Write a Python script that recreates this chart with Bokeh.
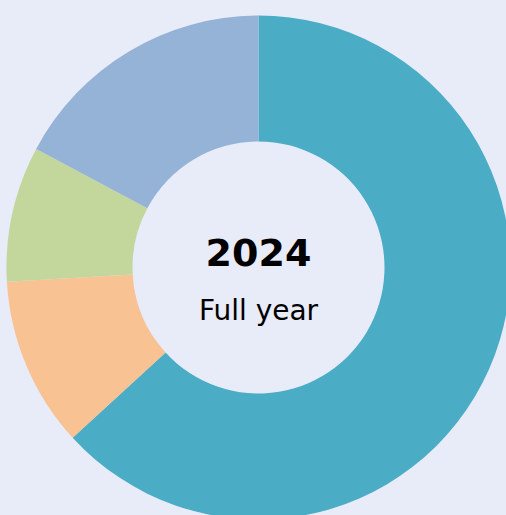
import numpy as np
from bokeh.plotting import figure
from bokeh.models import Range1d, ColumnDataSource
from bokeh.core.properties import value
from bokeh.embed import file_html
from bokeh.resources import INLINE

# Data (clockwise from 12 o'clock)
categories = ["Segment 1", "Segment 2", "Segment 3", "Segment 4"]
shares = [63.2, 10.9, 8.7, 17.2]
colors = ["#4BACC6", "#F9C293", "#C3D69B", "#95B3D7"]
center_title = ["2024"]
center_subtitle = ["Full year"]

BG = "#E8EBF8"
W, H = 506, 515
cx, cy = 258, H - 267
r_out, r_in = 252, 126

vals = np.array(shares, dtype=float)
frac = vals / vals.sum()
cum_end = np.cumsum(frac) * 2 * np.pi
cum_start = cum_end - frac * 2 * np.pi
start = np.pi / 2 - cum_end
end = np.pi / 2 - cum_start

src = ColumnDataSource(dict(cat=categories, start=start, end=end, color=colors,
                            x=[cx] * len(categories), y=[cy] * len(categories)))

p = figure(width=W, height=H, x_range=Range1d(0, W), y_range=Range1d(0, H),
           output_backend="svg", toolbar_location=None, min_border=0)
p.axis.visible = False
p.grid.visible = False
p.outline_line_color = None
p.background_fill_color = BG
p.border_fill_color = BG

p.annular_wedge(x="x", y="y", inner_radius=r_in, outer_radius=r_out,
                start_angle="start", end_angle="end", fill_color="color",
                line_color=None, source=src)

p.text(x=[cx], y=[H - 252], text=center_title, text_align="center",
       text_baseline="alphabetic", text_font=value("DejaVu Sans"),
       text_font_size="38px", text_font_style="bold", text_color="#000000")
p.text(x=[cx], y=[H - 310], text=center_subtitle, text_align="center",
       text_baseline="alphabetic", text_font=value("DejaVu Sans"),
       text_font_size="28px", text_color="#000000")

html = file_html(p, INLINE)
html = html.replace("</head>", "<style>html,body{margin:0;padding:0;background:%s;overflow:hidden}</style></head>" % BG, 1)
open("out.html", "w").write(html)
